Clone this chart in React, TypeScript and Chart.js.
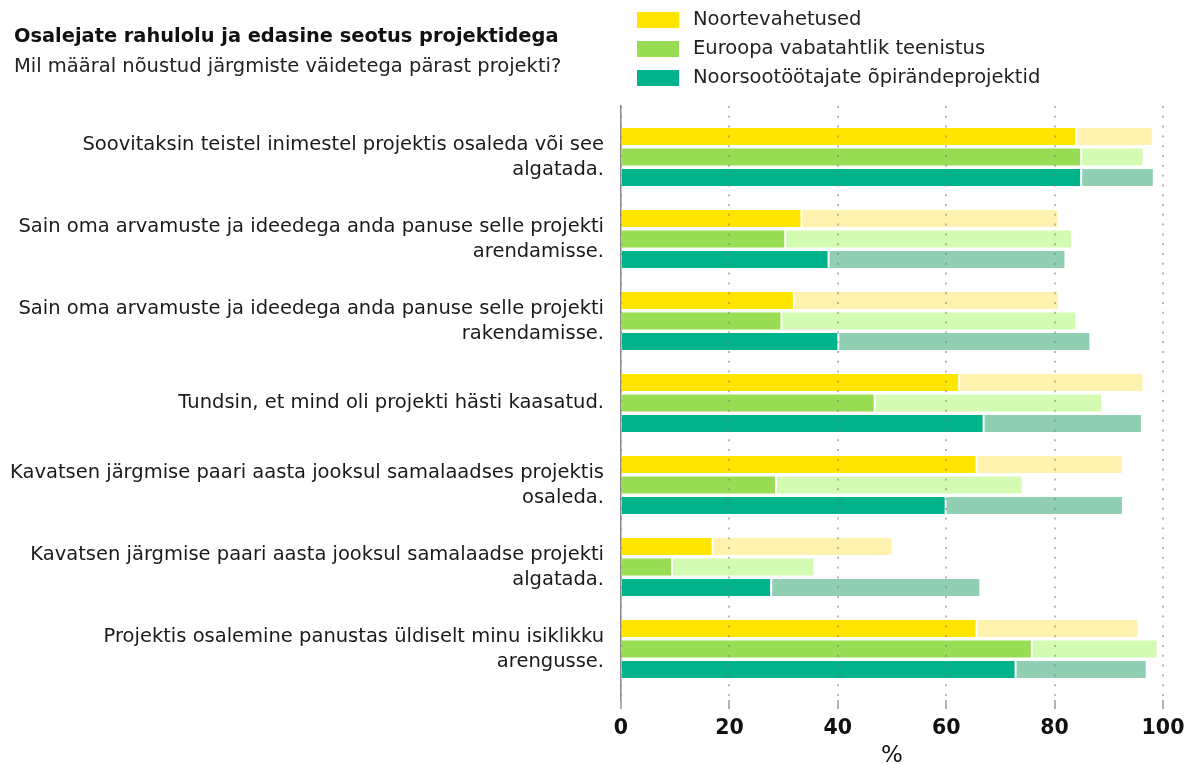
import React, { useEffect, useRef } from "react";
import { Chart, registerables } from "chart.js";

Chart.register(...registerables);

const chartTitle = "Osalejate rahulolu ja edasine seotus projektidega";
const chartSubtitle = "Mil määral nõustud järgmiste väidetega pärast projekti?";
const xAxisTitle = "%";

const categories: (string | string[])[] = [
  ["Soovitaksin teistel inimestel projektis osaleda või see", "algatada."],
  ["Sain oma arvamuste ja ideedega anda panuse selle projekti", "arendamisse."],
  ["Sain oma arvamuste ja ideedega anda panuse selle projekti", "rakendamisse."],
  "Tundsin, et mind oli projekti hästi kaasatud.",
  ["Kavatsen järgmise paari aasta jooksul samalaadses projektis", "osaleda."],
  ["Kavatsen järgmise paari aasta jooksul samalaadse projekti", "algatada."],
  ["Projektis osalemine panustas üldiselt minu isiklikku", "arengusse."],
];

const seriesNames = [
  "Noortevahetused",
  "Euroopa vabatahtlik teenistus",
  "Noorsootöötajate õpirändeprojektid",
];

// "täiesti nõus" (dark) and "pigem nõus" (light) segments, %
const noortevahetusedStrong = [84.0, 33.3, 31.9, 62.4, 65.6, 16.9, 65.6];
const noortevahetusedAgree = [14.1, 47.4, 48.9, 34.0, 27.0, 33.2, 29.9];
const evtStrong = [84.9, 30.3, 29.6, 46.8, 28.6, 9.4, 75.8];
const evtAgree = [11.5, 52.9, 54.4, 42.0, 45.5, 26.3, 23.2];
const opiranneStrong = [84.9, 38.3, 40.1, 66.9, 59.9, 27.7, 72.8];
const opiranneAgree = [13.4, 43.7, 46.5, 29.2, 32.7, 38.6, 24.2];

const xTicks = [0, 20, 40, 60, 80, 100];

const darkColors = ["#FFE500", "#99DD55", "#00B38A"];
const lightColors = ["#FFF2AE", "#D4FBB2", "#90CFB2"];

const FONT = '"DejaVu Sans", Verdana, sans-serif';

export default function App() {
  const canvasRef = useRef<HTMLCanvasElement | null>(null);

  useEffect(() => {
    document.body.style.margin = "0";
    const canvas = canvasRef.current;
    if (!canvas) return;

    const strong = [noortevahetusedStrong, evtStrong, opiranneStrong];
    const agree = [noortevahetusedAgree, evtAgree, opiranneAgree];
    const stacks = ["s0", "s1", "s2"];

    const datasets: any[] = [];
    for (let i = 0; i < 3; i++) {
      datasets.push({
        label: seriesNames[i],
        data: strong[i],
        backgroundColor: darkColors[i],
        borderColor: "#ffffff",
        borderWidth: 1,
        borderSkipped: "left",
        stack: stacks[i],
        isLegend: true,
      });
      datasets.push({
        label: seriesNames[i] + " (pigem)",
        data: agree[i],
        backgroundColor: lightColors[i],
        borderColor: "#ffffff",
        borderWidth: 1,
        borderSkipped: false,
        stack: stacks[i],
        isLegend: false,
      });
    }

    const headerPlugin = {
      id: "header",
      afterDraw(chart: any) {
        const ctx = chart.ctx;
        ctx.save();
        ctx.textBaseline = "middle";
        ctx.textAlign = "left";
        ctx.fillStyle = "#111";
        ctx.font = `bold 19.4px ${FONT}`;
        ctx.fillText(chartTitle, 14, 37);
        ctx.fillStyle = "#222";
        ctx.font = `19.5px ${FONT}`;
        ctx.fillText(chartSubtitle, 14, 67);

        const legendSets = chart.data.datasets.filter((d: any) => d.isLegend);
        ctx.font = `19.5px ${FONT}`;
        legendSets.forEach((d: any, i: number) => {
          const y = 20 + i * 29;
          ctx.fillStyle = d.backgroundColor;
          ctx.fillRect(637, y - 8, 42, 16);
          ctx.fillStyle = "#222";
          ctx.fillText(d.label, 693, y);
        });
        ctx.restore();
      },
    };

    const chart = new Chart(canvas, {
      type: "bar",
      data: { labels: categories, datasets },
      options: {
        animation: false,
        responsive: true,
        maintainAspectRatio: false,
        indexAxis: "y",
        layout: { padding: { top: 106, left: 0, right: 21, bottom: 0 } },
        datasets: {
          bar: { categoryPercentage: 0.75, barPercentage: 0.93 },
        },
        plugins: {
          legend: { display: false },
          title: { display: false },
          tooltip: { enabled: false },
        },
        scales: {
          x: {
            type: "linear",
            min: 0,
            max: 100,
            afterBuildTicks: (scale: any) => {
              scale.ticks = xTicks.map((v) => ({ value: v }));
            },
            afterFit: (scale: any) => {
              scale.height = 64;
              scale.paddingLeft = 0;
              scale.paddingRight = 0;
            },
            grid: {
              color: "rgba(130,130,130,0.55)",
              lineWidth: 2,
              z: 1,
              drawTicks: true,
              tickLength: 9,
              tickColor: "#9a9a9a",
              tickWidth: 1.5,
              tickBorderDash: [],
            },
            border: { display: false, dash: [2, 7.8] },
            ticks: {
              padding: 7,
              color: "#111",
              font: { family: FONT, size: 20.5, weight: "bold" },
            },
            title: {
              display: true,
              text: xAxisTitle,
              color: "#111",
              padding: 0,
              font: { family: FONT, size: 23, lineHeight: 0.7 },
            },
          },
          y: {
            type: "category",
            afterBuildTicks: (scale: any) => {
              scale._startValue = -0.622;
              scale._valueRange = 7.244;
            },
            afterFit: (scale: any) => {
              scale.width = 621;
              scale.paddingTop = 0;
              scale.paddingBottom = 0;
            },
            grid: { display: false, drawTicks: false },
            border: { display: true, color: "#888", width: 1.5, z: 2 },
            ticks: {
              padding: 17,
              color: "#1a1a1a",
              font: { family: FONT, size: 19.5, lineHeight: 1.28 },
            },
          },
        },
      },
      plugins: [headerPlugin],
    });

    return () => chart.destroy();
  }, []);

  return (
    <div style={{ position: "absolute", left: 0, top: 0, width: 1184, height: 764 }}>
      <canvas ref={canvasRef} />
    </div>
  );
}
